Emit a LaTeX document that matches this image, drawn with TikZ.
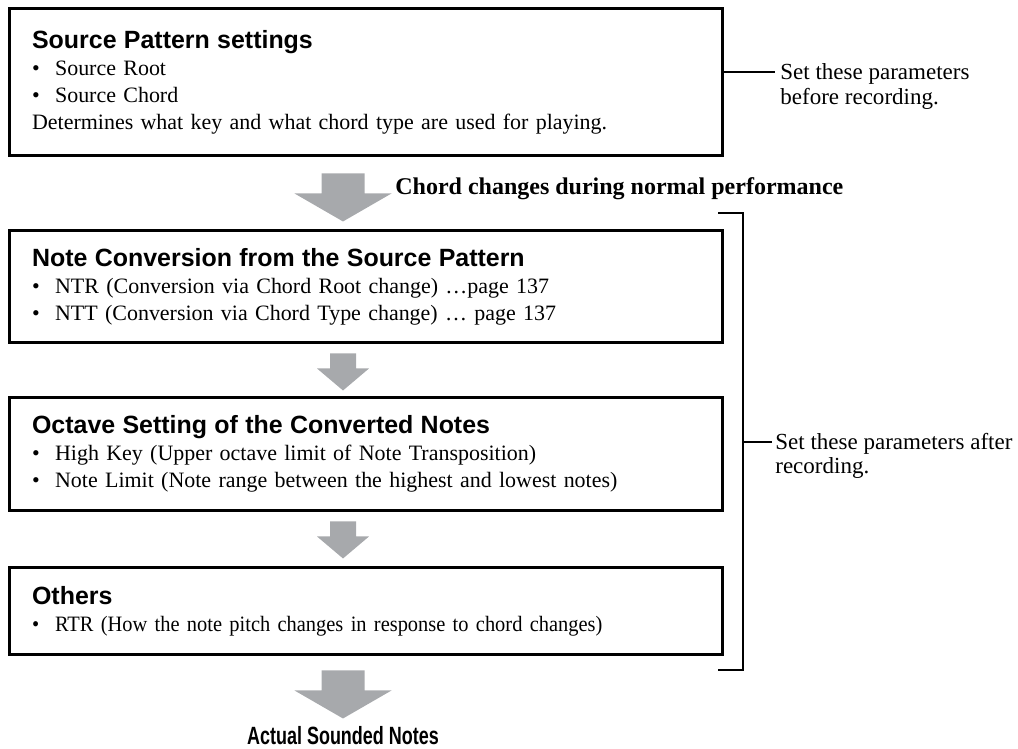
\documentclass[tikz,border=0pt]{standalone}
\usepackage{fontspec}
\setmainfont{Liberation Serif}
\setsansfont{Liberation Sans}
\newfontfamily\narrowsans[FakeStretch=0.72]{Liberation Sans}
\usetikzlibrary{calc}

\definecolor{flowgray}{HTML}{A7A9AC}
\newcommand{\headfont}{\fontsize{14.2pt}{15.4pt}\selectfont\sffamily\bfseries}
\newcommand{\itembul}{\makebox[13.1pt][l]{\textbullet}}

\tikzset{
  stage/.style={draw,line width=1.7pt,minimum width=14.26cm,text width=13.36cm,
    inner xsep=0.45cm,inner ysep=0pt,align=left,
    font=\fontsize{12.5pt}{15.4pt}\selectfont},
  note/.style={anchor=north west,inner sep=0pt,align=left,
    font=\fontsize{13.1pt}{14pt}\selectfont},
  tie/.style={line width=1.1pt},
  pics/bigdown/.style={code={
    \fill[flowgray] (-21.5,0) -- (21.5,0) -- (21.5,20) -- (48.5,20) -- (0,48)
      -- (-48.5,20) -- (-21.5,20) -- cycle;}},
  pics/smalldown/.style={code={
    \fill[flowgray] (-13,0) -- (13,0) -- (13,15) -- (26,15) -- (0,37)
      -- (-26,15) -- (-13,15) -- cycle;}},
}

\begin{document}
\begin{tikzpicture}[x=0.02cm,y=-0.02cm,line join=miter]
  \useasboundingbox (0,0) rectangle (1018,749);
  \coordinate (axis) at (343,0);

  % the four stages
  \node[stage,minimum height=2.94cm] (src) at (366,82) {%
    {\headfont Source Pattern settings}\\
    \itembul Source Root\\
    \itembul Source Chord\\
    Determines what key and what chord type are used for playing.};
  \node[stage,minimum height=2.24cm] (conv) at (366,286.5) {%
    {\headfont Note Conversion from the Source Pattern}\\
    \itembul NTR (Conversion via Chord Root change) …page 137\\
    \itembul NTT (Conversion via Chord Type change) … page 137};
  \node[stage,minimum height=2.26cm] (oct) at (366,454) {%
    {\headfont Octave Setting of the Converted Notes}\\
    \itembul High Key (Upper octave limit of Note Transposition)\\
    \itembul Note Limit (Note range between the highest and lowest notes)};
  \node[stage,minimum height=1.74cm] (other) at (366,611) {%
    {\headfont Others}\\
    \addfontfeature{FakeStretch=0.93}%
    \itembul RTR (How the note pitch changes in response to chord changes)};
  \node[anchor=base,inner sep=0pt,font=\fontsize{14.2pt}{15pt}\selectfont\narrowsans\bfseries]
    (sounded) at (343,745) {Actual Sounded Notes};

  % flow arrows
  \pic at ($(src.south -| axis)+(0,16.5)$) {bigdown};
  \pic at ($(conv.south -| axis)+(0,9.5)$) {smalldown};
  \pic at ($(oct.south -| axis)+(0,9.5)$) {smalldown};
  \pic at ($(other.south -| axis)+(0,14.5)$) {bigdown};
  \node[anchor=base west,inner sep=0pt,font=\fontsize{13.66pt}{15pt}\selectfont\bfseries]
    (chordlbl) at (395,195) {Chord changes during normal performance};

  % before recording
  \coordinate (b1) at (775,72);
  \draw[tie] (src.east |- b1) -- (b1);
  \node[note] (before) at (780,63.5) {Set these parameters\\before recording.};

  % after recording
  \coordinate (brtop) at (743,213);
  \coordinate (brbot) at (743,670);
  \coordinate (brmid) at (743,442);
  \coordinate (b2) at (772,442);
  \draw[tie] (718,213) -- (brtop) -- (brbot) -- (718,670);
  \draw[tie] (brmid) -- (b2);
  \node[note] (after) at (775,432.5) {Set these parameters after\\recording.};
\end{tikzpicture}
\end{document}
